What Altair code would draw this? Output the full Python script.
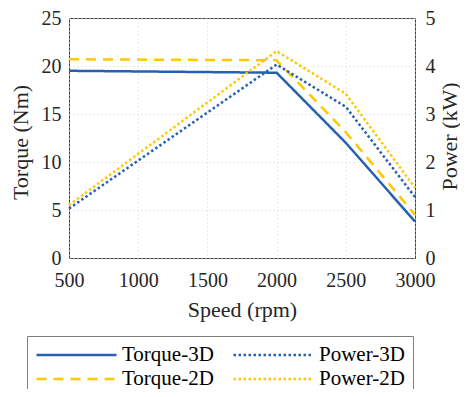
import altair as alt
import pandas as pd

speed = [500, 2000, 2500, 3000]
torque_3d = [19.5, 19.3, 12.0, 3.8]
torque_2d = [20.7, 20.6, 13.1, 4.5]
power_3d = [1.03, 4.03, 3.15, 1.27]
power_2d = [1.10, 4.31, 3.42, 1.46]

# legend fills column by column: col 1 = Torque-3D, Torque-2D ; col 2 = Power-3D, Power-2D
series_order = ["Torque-3D", "Torque-2D", "Power-3D", "Power-2D"]
series_colors = ["#2461B3", "#FFC800", "#2461B3", "#FFC800"]
series_dashes = [[1, 0], [10, 7], [2.5, 2.5], [2.5, 2.5]]

x_ticks = [500, 1000, 1500, 2000, 2500, 3000]
torque_ticks = [0, 5, 10, 15, 20, 25]
power_ticks = [0, 1, 2, 3, 4, 5]

FONT = "Liberation Serif"
TXT = "#262626"

torque_df = pd.DataFrame(
    {"speed": speed * 2, "value": torque_3d + torque_2d,
     "series": ["Torque-3D"] * 4 + ["Torque-2D"] * 4}
)
power_df = pd.DataFrame(
    {"speed": speed * 2, "value": power_3d + power_2d,
     "series": ["Power-3D"] * 4 + ["Power-2D"] * 4}
)

legend = alt.Legend(
    title=None, orient="none", legendX=-42, legendY=318, columns=2,
    symbolType="stroke", symbolSize=6400, symbolStrokeWidth=2.5,
    labelFont=FONT, labelFontSize=21, labelColor="black", labelOffset=4,
    columnPadding=18, rowPadding=2, clipHeight=22, padding=8,
    strokeColor="#808080", fillColor="white", labelLimit=200,
)
color = alt.Color("series:N", scale=alt.Scale(domain=series_order, range=series_colors), legend=legend)
dash = alt.StrokeDash("series:N", scale=alt.Scale(domain=series_order, range=series_dashes), legend=legend)

x_enc = alt.X(
    "speed:Q", scale=alt.Scale(domain=[500, 3000], nice=False),
    axis=alt.Axis(values=x_ticks, format="d", title="Speed (rpm)", labelPadding=12,
                  labelFlush=False, labelFont=FONT, titleFont=FONT,
                  titleY=58, titleBaseline="alphabetic"),
)

torque = alt.Chart(torque_df).mark_line(strokeWidth=2.5, strokeCap="butt").encode(
    x=x_enc,
    y=alt.Y("value:Q", scale=alt.Scale(domain=[0, 25], nice=False),
            axis=alt.Axis(values=torque_ticks, title="Torque (Nm)", orient="left",
                          labelFont=FONT, titleFont=FONT, labelFlush=False,
                          labelPadding=8, titleX=-49, titleY=124, titleAngle=270,
                          titleBaseline="middle")),
    color=color, strokeDash=dash,
)

power = alt.Chart(power_df).mark_line(strokeWidth=2.5, strokeCap="butt").encode(
    x=x_enc,
    y=alt.Y("value:Q", scale=alt.Scale(domain=[0, 5], nice=False),
            axis=alt.Axis(values=power_ticks, title="Power (kW)", orient="right",
                          labelFont=FONT, titleFont=FONT, labelFlush=False,
                          labelPadding=10, grid=False, titleX=34, titleY=118,
                          titleAngle=270, titleBaseline="middle")),
    color=color, strokeDash=dash,
)

chart = alt.layer(torque, power).resolve_scale(y="independent").properties(
    width=346, height=240,
    autosize=alt.AutoSizeParams(type="none"),
    padding={"left": 61, "top": 10, "right": 45, "bottom": 131},
).configure(
    font=FONT
).configure_view(
    stroke="#404040", strokeWidth=1
).configure_axis(
    labelFont=FONT, titleFont=FONT, labelFontSize=20, titleFontSize=22,
    labelColor=TXT, titleColor=TXT, titleFontWeight="normal",
    domain=False, ticks=False, grid=True, gridColor="#d0d0d0", gridDash=[1, 3],
    gridWidth=1,
).configure_legend(
    labelFont=FONT
)

chart.save("out.html", embed_options={"renderer": "svg", "actions": False})
